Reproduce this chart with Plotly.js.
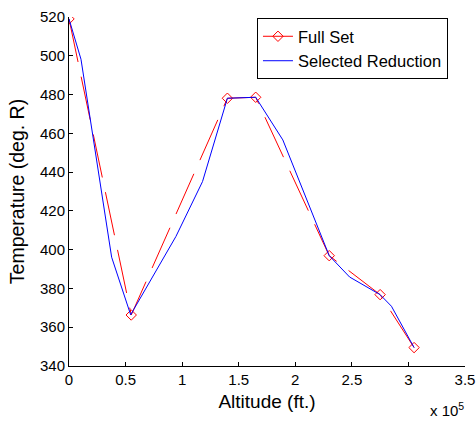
<!DOCTYPE html>
<html>
<head>
<meta charset="utf-8">
<script src="https://cdn.plot.ly/plotly-3.0.1.min.js"></script>
<style>html,body{margin:0;padding:0;background:#fff;}#chart{width:476px;height:421px;}</style>
</head>
<body>
<div id="chart"></div>
<script>
// Altitude in ft, temperature in deg. R
const fullAltitude = [0, 55000, 140000, 165000, 230000, 275000, 305000];
const fullTemperature = [519, 366.3, 478.1, 478.6, 396.9, 376.8, 349.5];

const reducedAltitude = [0, 10600, 37700, 54500, 94500, 118000, 140000, 165000, 189000, 230000, 248000, 275000, 285000, 305000];
const reducedTemperature = [519, 498.2, 396.1, 366.4, 406.8, 435.1, 478.1, 478.6, 456.6, 396.9, 385.9, 376.8, 370.8, 349.5];

const xTickValues = [0, 50000, 100000, 150000, 200000, 250000, 300000, 350000];
const xTickLabels = ['0', '0.5', '1', '1.5', '2', '2.5', '3', '3.5'];
const yTickValues = [340, 360, 380, 400, 420, 440, 460, 480, 500, 520];

const seriesNames = ['Full Set', 'Selected Reduction'];

const FONT = 'Liberation Sans, Arial, Helvetica, sans-serif';

const traces = [
  {
    x: fullAltitude, y: fullTemperature, name: seriesNames[0],
    type: 'scatter', mode: 'lines+markers',
    line: {color: '#ff0000', width: 1, dash: '44px,15px'},
    marker: {symbol: 'diamond-open', size: 8, color: '#ff0000', line: {width: 1, color: '#ff0000'}}
  },
  {
    x: reducedAltitude, y: reducedTemperature, name: seriesNames[1],
    type: 'scatter', mode: 'lines',
    line: {color: '#0000ff', width: 1}
  }
];

const layout = {
  width: 476, height: 421,
  margin: {l: 69, r: 11, t: 17, b: 54.5, pad: 0},
  paper_bgcolor: '#fff', plot_bgcolor: '#fff',
  font: {family: FONT, color: '#000', size: 15},
  showlegend: true,
  legend: {
    x: 0.4747, y: 0.997, xanchor: 'left', yanchor: 'top',
    bordercolor: '#000', borderwidth: 1, bgcolor: '#fff',
    font: {family: FONT, size: 16.5, color: '#000'},
    tracegroupgap: 0
  },
  xaxis: {
    range: [0, 350000], tickvals: xTickValues, ticktext: xTickLabels,
    showgrid: false, zeroline: false, showline: true, linecolor: '#000', linewidth: 1,
    ticks: 'inside', ticklen: 4, tickcolor: '#000', mirror: false,
    tickfont: {family: FONT, size: 15, color: '#000'},
    title: {text: 'Altitude (ft.)', font: {family: FONT, size: 19, color: '#000'}, standoff: 7}
  },
  yaxis: {
    range: [340, 520], tickvals: yTickValues,
    showgrid: false, zeroline: false, showline: true, linecolor: '#000', linewidth: 1,
    ticks: 'inside', ticklen: 4, tickcolor: '#000', mirror: false,
    tickfont: {family: FONT, size: 15, color: '#000'},
    title: {text: 'Temperature (deg. R)', font: {family: FONT, size: 19.5, color: '#000'}, standoff: 10}
  },
  annotations: [{
    xref: 'paper', yref: 'paper', x: 0.9545, y: -0.125, xanchor: 'center', yanchor: 'middle',
    text: 'x 10<sup>5</sup>', showarrow: false, font: {family: FONT, size: 15, color: '#000'}
  }]
};

Plotly.newPlot('chart', traces, layout, {displayModeBar: false, staticPlot: true});
</script>
</body>
</html>
